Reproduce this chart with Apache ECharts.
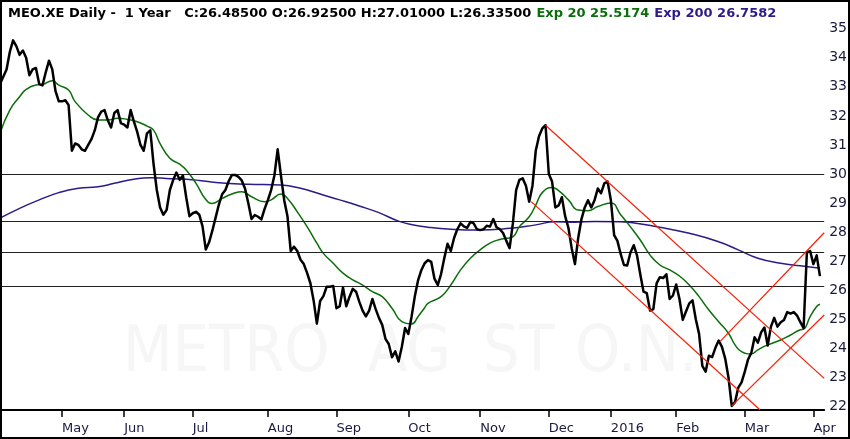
<!DOCTYPE html>
<html>
<head>
<meta charset="utf-8">
<script src="https://cdn.jsdelivr.net/npm/echarts@6/dist/echarts.min.js"></script>
<style>
html,body{margin:0;padding:0;background:#fff;}
#chart{width:850px;height:439px;}
</style>
</head>
<body>
<div id="chart"></div>
<script>
// ---- data (trading-day index on x) ----
const closes = [
33.1, 33.35, 33.6, 34.2, 34.6, 34.4, 34.1, 34.25, 34.0, 33.4,
33.6, 33.65, 33.1, 33.05, 33.5, 33.9, 33.6, 32.85, 32.5, 32.5,
32.54, 32.37, 30.8, 31.05, 31.0, 30.85, 30.8, 31.0, 31.2, 31.5,
31.95, 32.15, 32.2, 31.85, 31.6, 32.1, 32.2, 31.75, 31.7, 31.6,
32.2, 31.8, 31.45, 31.0, 30.8, 31.4, 31.5, 30.35, 29.45, 28.85,
28.6, 28.76, 29.45, 29.79, 30.05, 29.8, 29.95, 29.2, 28.55, 28.65,
28.7, 28.6, 28.2, 27.4, 27.65, 28.05, 28.5, 28.95, 29.3, 29.45,
29.75, 29.97, 29.97, 29.9, 29.78, 29.5, 29.0, 28.45, 28.59, 28.53,
28.44, 28.8, 29.1, 29.45, 29.95, 30.85, 29.95, 29.1, 28.55, 27.35,
27.5, 27.35, 27.05, 26.9, 26.6, 26.25, 25.65, 24.85, 25.63, 25.8,
26.12, 26.12, 26.15, 25.38, 25.45, 26.1, 25.45, 25.78, 26.05, 25.95,
25.6, 25.3, 25.1, 25.3, 25.7, 25.35, 25.05, 24.81, 24.33, 24.15,
23.7, 23.9, 23.55, 24.05, 24.7, 24.5, 25.1, 25.8, 26.35, 26.7,
26.93, 27.04, 26.98, 26.4, 26.18, 26.55, 27.1, 27.6, 27.35, 27.8,
28.1, 28.3, 28.2, 28.15, 28.35, 28.3, 28.1, 28.07, 28.1, 28.22,
28.19, 28.45, 28.17, 28.1, 27.97, 27.7, 27.45, 28.3, 29.45, 29.8,
29.85, 29.6, 29.05, 29.6, 30.8, 31.3, 31.57, 31.68, 30.0, 29.74,
28.85, 28.92, 29.2, 28.55, 28.15, 27.45, 26.9, 27.8, 28.45, 28.85,
29.1, 28.85, 29.1, 29.5, 29.34, 29.68, 29.74, 29.1, 27.9, 27.7,
27.25, 26.87, 26.85, 27.3, 27.55, 27.2, 26.55, 25.95, 25.9, 25.3,
25.35, 26.24, 26.45, 26.42, 26.55, 25.7, 25.82, 26.2, 25.7, 24.98,
25.27, 25.55, 25.65, 25.0, 24.5, 23.4, 23.2, 23.75, 23.7, 24.02,
24.27, 24.05, 23.65, 23.0, 22.02, 22.15, 22.65, 22.83, 23.2, 23.62,
23.85, 24.38, 24.2, 24.55, 24.72, 24.1, 24.75, 25.05, 24.75, 24.9,
24.98, 25.25, 25.2, 25.25, 25.13, 24.9, 24.7, 27.3, 27.35, 26.9,
27.2, 26.485
];
const ema20Days = [0,3,6,8,11,13,16,18,21,23,27,30,33,36,39,42,45,47,49,52,55,57,60,63,65,68,71,74,77,81,83,86,88,91,94,97,99,102,105,108,111,114,117,120,123,126,128,130,131,135,138,141,144,147,150,153,155,157,159,162,164,166,169,171,174,177,180,183,187,190,193,196,199,202,205,208,211,214,217,220,223,225,227,230,232,235,239,242,245,246,248,250,251];
const ema20Vals = [31.4,32.2,32.66,32.91,33.06,33.08,33.21,33.06,32.89,32.49,32.03,31.86,31.86,31.92,31.88,31.8,31.65,31.51,31.05,30.54,30.34,30.14,29.68,29.12,28.99,29.16,29.31,29.39,29.22,29.05,29.11,29.31,29.16,28.7,28.19,27.62,27.27,26.93,26.59,26.36,26.18,25.95,25.78,25.38,24.92,24.84,25.1,25.4,25.55,25.78,26.18,26.7,27.1,27.39,27.62,27.75,27.79,27.84,28.19,28.53,28.93,29.36,29.54,29.43,29.11,28.76,28.74,28.88,29.0,28.6,28.18,27.73,27.21,26.87,26.7,26.49,26.18,25.78,25.32,24.92,24.52,24.12,23.89,23.81,23.95,24.12,24.29,24.46,24.64,24.66,25.09,25.44,25.52];
const ema200Days = [0,6,12,18,24,30,35,41,46,51,57,61,67,76,86,92,98,104,110,116,122,127,131,138,146,156,164,170,176,182,190,193,202,211,220,226,232,239,245,251];
const ema200Vals = [28.48,28.82,29.11,29.36,29.51,29.56,29.68,29.82,29.87,29.85,29.82,29.78,29.7,29.65,29.62,29.51,29.31,29.11,28.9,28.67,28.38,28.24,28.17,28.1,28.07,28.13,28.25,28.36,28.34,28.37,28.36,28.33,28.17,27.96,27.67,27.39,27.1,26.93,26.84,26.76];
const hLevels = [30.0, 28.36, 27.3, 26.15];
const trendStartDay = [167, 162.6, 220.4, 224];
const trendStartVal = [31.68, 29.05, 24.23, 22.02];
const trendEndDay   = [252.3, 232.7, 252.3, 252.3];
const trendEndVal   = [22.97, 21.88, 27.98, 25.15];
const monthDays   = [19, 38, 59, 82, 103, 125, 147, 168, 187, 207, 228, 249];
const monthLabels = ['May','Jun','Jul','Aug','Sep','Oct','Nov','Dec','2016','Feb','Mar','Apr'];
const yTicks = [22,23,24,25,26,27,28,29,30,31,32,33,34,35];
const headerMain = 'MEO.XE Daily -  1 Year   C:26.48500 O:26.92500 H:27.01000 L:26.33500';
const headerEma20 = 'Exp 20 25.5174';
const headerEma200 = 'Exp 200 26.7582';
const watermarkWords = ['METRO', 'AG', 'ST', 'O.N.'];
const watermarkLeft = [123, 368, 483, 575];

// ---- chart ----
const FONT = 'DejaVu Sans';
const chart = echarts.init(document.getElementById('chart'), null, {renderer:'canvas'});
const closeData = closes.map((v,i)=>[i,v]);
const e20 = ema20Days.map((d,i)=>[d, ema20Vals[i]]);
const e200 = ema200Days.map((d,i)=>[d, ema200Vals[i]]);
const trendSeries = trendStartDay.map((d,i)=>({
  type:'line', data:[[d, trendStartVal[i]],[trendEndDay[i], trendEndVal[i]]],
  symbol:'none', silent:true, clip:false, z:6,
  lineStyle:{color:'#ff1a00', width:1.2}
}));
const wm = watermarkWords.map((w,i)=>({
  type:'text', z:-10, silent:true, x:watermarkLeft[i], y:322,
  style:{text:w, font:'64px "DejaVu Sans Condensed", "DejaVu Sans"', fill:'#f6f6f6', textVerticalAlign:'top'}
}));

chart.setOption({
  animation:false,
  backgroundColor:'#ffffff',
  title:{
    left:3, top:0,
    text:'{k|'+headerMain+'} {g|'+headerEma20+'} {b|'+headerEma200+'}',
    textStyle:{
      rich:{
        k:{color:'#000', fontSize:13, fontFamily:FONT},
        g:{color:'#0a6e0a', fontSize:13, fontFamily:FONT},
        b:{color:'#2f1a8a', fontSize:13, fontFamily:FONT}
      }
    }
  },
  graphic:wm.concat([
    {type:'rect', z:100, silent:true, shape:{x:1,y:1,width:848,height:437},
     style:{fill:'none', stroke:'#000', lineWidth:2}}
  ]),
  grid:{left:0, right:25, top:20, bottom:29},
  xAxis:{
    type:'value', min:0, max:252.3,
    axisLine:{show:true, onZero:false, lineStyle:{color:'#000', width:2}},
    axisTick:{show:true, customValues:monthDays, length:7, lineStyle:{color:'#000', width:1.5}},
    axisLabel:{show:true, customValues:monthDays, align:'left', margin:12,
      color:'#1a1a40', fontSize:13, fontFamily:FONT,
      formatter:(v)=>{const k=monthDays.indexOf(Math.round(v)); return k>=0?monthLabels[k]:'';}},
    splitLine:{show:false}
  },
  yAxis:{
    type:'value', position:'right', min:21.88, max:35.3,
    axisLine:{show:true, lineStyle:{color:'#000', width:2}},
    axisTick:{show:false},
    axisLabel:{show:true, customValues:yTicks, margin:5, color:'#1a1a40', fontSize:14, fontFamily:FONT},
    splitLine:{show:false}
  },
  series:[
    {type:'line', name:'Exp 200', data:e200, smooth:0.5, symbol:'none', z:3,
     lineStyle:{color:'#2f1a8a', width:1.5}},
    {type:'line', name:'Exp 20', data:e20, smooth:0.5, symbol:'none', z:4,
     lineStyle:{color:'#0a6e0a', width:1.5}},
    {type:'line', name:'Close', data:closeData, symbol:'none', z:5, clip:false,
     lineStyle:{color:'#000', width:2.5, join:'round'},
     markLine:{silent:true, symbol:'none', label:{show:false},
       lineStyle:{color:'#222', width:1, type:'solid'},
       data:hLevels.map(v=>({yAxis:v}))}}
  ].concat(trendSeries)
});
</script>
</body>
</html>
